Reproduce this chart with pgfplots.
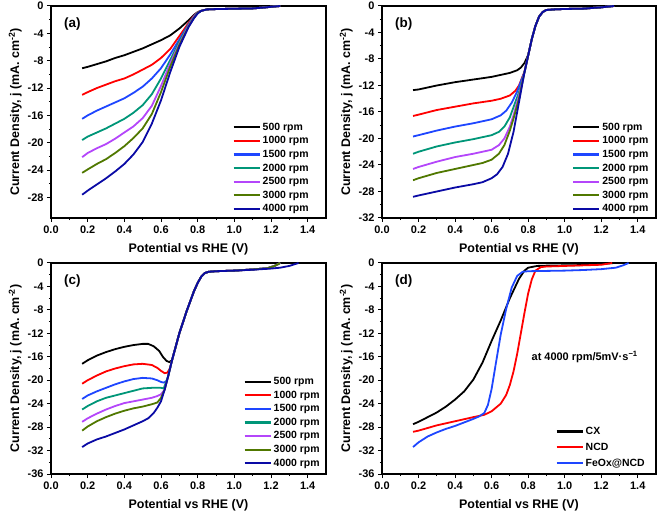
\documentclass[border=0pt]{standalone}
\usepackage{fontspec}
\setmainfont{Liberation Sans}
\usepackage{pgfplots}
\pgfplotsset{compat=1.18}

\definecolor{cA}{RGB}{0,0,0}
\definecolor{cB}{RGB}{255,0,0}
\definecolor{cC}{RGB}{30,70,255}
\definecolor{cD}{RGB}{0,150,120}
\definecolor{cE}{RGB}{180,70,250}
\definecolor{cF}{RGB}{80,120,0}
\definecolor{cG}{RGB}{10,10,165}

\pgfplotsset{
  panel/.style={
    scale only axis, width=275bp, height=212bp,
    xmin=0, xmax=1.5, xtick={0,0.2,0.4,0.6,0.8,1.0,1.2,1.4}, minor x tick num=1,
    ymax=0, minor y tick num=1,
    axis line style={line width=1.5bp},
    every tick/.style={black, line width=1bp},
    major tick length=4bp, minor tick length=2.2bp,
    tick align=outside, tick pos=left,
    /pgf/number format/assume math mode=true,
    xticklabel style={/pgf/number format/.cd, fixed, fixed zerofill, precision=1},
    ticklabel style={font=\bfseries\fontsize{11}{11}\selectfont},
    label style={font=\bfseries\fontsize{12.5}{12.5}\selectfont},
    xlabel={Potential vs RHE (V)},
    ylabel={Current Density, j (mA. cm\textsuperscript{-2})},
    xlabel style={yshift=-3bp},
    ylabel style={yshift=-1bp},
    legend cell align=left,
    legend style={draw=none, fill=none, inner sep=0pt,
      font=\bfseries\fontsize{10.5}{10.5}\selectfont,
      row sep=0.8bp},
    legend image code/.code={\draw[##1, line width=2.2bp] (0bp,0bp) -- (26bp,0bp);},
    every axis plot/.append style={line width=1.8bp, mark=none},
  }
}

\begin{document}
\begin{tikzpicture}
\path[use as bounding box] (0,0) rectangle (661bp,517bp);

% ---------------- (a)
\begin{axis}[panel, at={(51bp,299bp)}, anchor=south west,
  ymin=-31, ytick={-28,-24,-20,-16,-12,-8,-4,0},
  legend style={at={(0.945,0.012)}, anchor=south east}]
\addplot[cA] coordinates {(0.17,-9.1) (0.2,-8.9) (0.25,-8.5) (0.3,-8.1) (0.35,-7.6) (0.4,-7.2) (0.45,-6.7) (0.5,-6.2) (0.55,-5.6) (0.6,-5.0) (0.65,-4.3) (0.7,-3.3) (0.75,-2.1) (0.78,-1.3) (0.8,-0.9) (0.82,-0.7) (0.85,-0.5) (0.9,-0.45) (1.0,-0.4) (1.1,-0.35) (1.15,-0.25) (1.2,-0.12) (1.25,0)};
\addplot[cB] coordinates {(0.17,-13.0) (0.2,-12.6) (0.25,-12.0) (0.3,-11.5) (0.35,-11.0) (0.4,-10.6) (0.45,-10.0) (0.5,-9.3) (0.55,-8.6) (0.6,-7.6) (0.65,-6.3) (0.7,-4.4) (0.75,-2.5) (0.78,-1.4) (0.8,-0.9) (0.82,-0.7) (0.85,-0.5) (0.9,-0.45) (1.0,-0.4) (1.1,-0.35) (1.15,-0.25) (1.2,-0.12) (1.25,0)};
\addplot[cC] coordinates {(0.17,-16.5) (0.2,-16.0) (0.25,-15.3) (0.3,-14.7) (0.35,-14.1) (0.4,-13.5) (0.45,-12.7) (0.5,-11.8) (0.55,-10.6) (0.6,-9.1) (0.65,-7.1) (0.7,-4.9) (0.75,-2.7) (0.78,-1.5) (0.8,-0.95) (0.82,-0.7) (0.85,-0.5) (0.9,-0.45) (1.0,-0.4) (1.1,-0.35) (1.15,-0.25) (1.2,-0.12) (1.25,0)};
\addplot[cD] coordinates {(0.17,-19.6) (0.2,-19.1) (0.25,-18.5) (0.3,-17.9) (0.35,-17.2) (0.4,-16.5) (0.45,-15.6) (0.5,-14.5) (0.55,-12.9) (0.6,-10.6) (0.65,-7.9) (0.7,-5.2) (0.75,-2.8) (0.78,-1.6) (0.8,-1.0) (0.82,-0.7) (0.85,-0.5) (0.9,-0.45) (1.0,-0.4) (1.1,-0.35) (1.15,-0.25) (1.2,-0.12) (1.25,0)};
\addplot[cE] coordinates {(0.17,-22.1) (0.2,-21.5) (0.25,-20.8) (0.3,-20.2) (0.35,-19.4) (0.4,-18.5) (0.45,-17.6) (0.5,-16.4) (0.55,-14.6) (0.6,-11.7) (0.65,-8.4) (0.7,-5.5) (0.75,-2.9) (0.78,-1.6) (0.8,-1.0) (0.82,-0.7) (0.85,-0.5) (0.9,-0.45) (1.0,-0.4) (1.1,-0.35) (1.15,-0.25) (1.2,-0.12) (1.25,0)};
\addplot[cF] coordinates {(0.17,-24.4) (0.2,-23.9) (0.25,-23.1) (0.3,-22.4) (0.35,-21.5) (0.4,-20.5) (0.45,-19.3) (0.5,-17.9) (0.55,-15.8) (0.6,-12.6) (0.65,-8.9) (0.7,-5.7) (0.75,-3.0) (0.78,-1.7) (0.8,-1.0) (0.82,-0.7) (0.85,-0.5) (0.9,-0.45) (1.0,-0.4) (1.1,-0.35) (1.15,-0.25) (1.2,-0.12) (1.25,0)};
\addplot[cG] coordinates {(0.17,-27.6) (0.2,-27.0) (0.25,-26.1) (0.3,-25.2) (0.35,-24.2) (0.4,-23.1) (0.45,-21.7) (0.5,-19.9) (0.55,-17.2) (0.6,-13.8) (0.65,-9.7) (0.7,-6.0) (0.75,-3.1) (0.78,-1.8) (0.8,-1.1) (0.82,-0.7) (0.85,-0.5) (0.9,-0.45) (1.0,-0.4) (1.1,-0.35) (1.15,-0.25) (1.2,-0.12) (1.25,0)};
\legend{500 rpm,1000 rpm,1500 rpm,2000 rpm,2500 rpm,3000 rpm,4000 rpm}
\node[anchor=west, font=\bfseries\fontsize{13.5}{13.5}\selectfont] at (rel axis cs:0.035,0.915) {(a)};
\end{axis}

% ---------------- (b)
\begin{axis}[panel, at={(382bp,299bp)}, anchor=south west, width=274bp,
  ymin=-32, ytick={-32,-28,-24,-20,-16,-12,-8,-4,0},
  legend style={at={(0.98,0.012)}, anchor=south east}]
\addplot[cA] coordinates {(0.17,-12.7) (0.2,-12.6) (0.3,-12.0) (0.4,-11.5) (0.5,-11.1) (0.6,-10.7) (0.65,-10.4) (0.7,-10.1) (0.74,-9.7) (0.76,-9.3) (0.78,-8.6) (0.8,-7.4) (0.82,-5.0) (0.84,-3.0) (0.86,-1.6) (0.88,-0.9) (0.9,-0.6) (0.95,-0.5) (1.0,-0.45) (1.1,-0.4) (1.2,-0.2) (1.27,0)};
\addplot[cB] coordinates {(0.17,-16.6) (0.2,-16.4) (0.3,-15.7) (0.4,-15.2) (0.5,-14.7) (0.6,-14.3) (0.65,-14.0) (0.7,-13.5) (0.73,-12.8) (0.75,-12.0) (0.77,-10.6) (0.78,-9.9) (0.8,-7.5) (0.82,-5.0) (0.84,-3.0) (0.86,-1.6) (0.88,-0.9) (0.9,-0.6) (0.95,-0.5) (1.0,-0.45) (1.1,-0.4) (1.2,-0.2) (1.27,0)};
\addplot[cC] coordinates {(0.17,-19.7) (0.2,-19.5) (0.3,-18.8) (0.4,-18.2) (0.5,-17.7) (0.6,-17.1) (0.65,-16.5) (0.68,-15.8) (0.71,-14.6) (0.74,-12.9) (0.76,-11.4) (0.78,-10.0) (0.8,-7.5) (0.82,-5.0) (0.84,-3.0) (0.86,-1.6) (0.88,-0.9) (0.9,-0.6) (0.95,-0.5) (1.0,-0.45) (1.1,-0.4) (1.2,-0.2) (1.27,0)};
\addplot[cD] coordinates {(0.17,-22.3) (0.2,-22.0) (0.3,-21.2) (0.4,-20.6) (0.5,-20.1) (0.6,-19.5) (0.64,-19.0) (0.67,-18.2) (0.7,-16.8) (0.73,-14.5) (0.75,-13.0) (0.78,-10.0) (0.8,-7.5) (0.82,-5.0) (0.84,-3.0) (0.86,-1.6) (0.88,-0.9) (0.9,-0.6) (0.95,-0.5) (1.0,-0.45) (1.1,-0.4) (1.2,-0.2) (1.27,0)};
\addplot[cE] coordinates {(0.17,-24.6) (0.2,-24.3) (0.3,-23.5) (0.4,-22.8) (0.5,-22.3) (0.6,-21.7) (0.64,-21.0) (0.67,-20.0) (0.7,-18.2) (0.72,-16.5) (0.75,-13.5) (0.78,-10.0) (0.8,-7.5) (0.82,-5.0) (0.84,-3.0) (0.86,-1.6) (0.88,-0.9) (0.9,-0.6) (0.95,-0.5) (1.0,-0.45) (1.1,-0.4) (1.2,-0.2) (1.27,0)};
\addplot[cF] coordinates {(0.17,-26.3) (0.2,-26.0) (0.3,-25.2) (0.4,-24.6) (0.5,-24.0) (0.55,-23.7) (0.6,-23.2) (0.64,-22.3) (0.67,-21.0) (0.7,-18.8) (0.72,-17.0) (0.75,-14.0) (0.78,-10.0) (0.8,-7.5) (0.82,-5.0) (0.84,-3.0) (0.86,-1.6) (0.88,-0.9) (0.9,-0.6) (0.95,-0.5) (1.0,-0.45) (1.1,-0.4) (1.2,-0.2) (1.27,0)};
\addplot[cG] coordinates {(0.17,-28.8) (0.2,-28.6) (0.3,-28.0) (0.4,-27.4) (0.5,-26.9) (0.55,-26.6) (0.6,-26.0) (0.63,-25.4) (0.66,-24.3) (0.69,-22.3) (0.72,-19.0) (0.75,-14.5) (0.78,-10.0) (0.8,-7.5) (0.82,-5.0) (0.84,-3.0) (0.86,-1.6) (0.88,-0.9) (0.9,-0.6) (0.95,-0.5) (1.0,-0.45) (1.1,-0.4) (1.2,-0.2) (1.27,0)};
\legend{500 rpm,1000 rpm,1500 rpm,2000 rpm,2500 rpm,3000 rpm,4000 rpm}
\node[anchor=west, font=\bfseries\fontsize{13.5}{13.5}\selectfont] at (rel axis cs:0.035,0.915) {(b)};
\end{axis}

% ---------------- (c)
\begin{axis}[panel, at={(51bp,43bp)}, anchor=south west, height=211bp,
  ymin=-36, ytick={-36,-32,-28,-24,-20,-16,-12,-8,-4,0},
  legend style={at={(0.985,0.02)}, anchor=south east}]
\addplot[cA] coordinates {(0.17,-17.2) (0.2,-16.6) (0.25,-15.8) (0.3,-15.2) (0.35,-14.7) (0.4,-14.3) (0.45,-14.0) (0.5,-13.8) (0.53,-13.8) (0.56,-14.2) (0.59,-15.0) (0.61,-16.0) (0.63,-16.7) (0.645,-16.9) (0.66,-16.6) (0.7,-12.0) (0.74,-8.2) (0.78,-4.8) (0.8,-3.4) (0.82,-2.3) (0.84,-1.7) (0.86,-1.5) (0.9,-1.4) (1.0,-1.3) (1.1,-1.1) (1.18,-0.9) (1.22,-0.5) (1.25,0)};
\addplot[cB] coordinates {(0.17,-20.6) (0.2,-20.0) (0.25,-19.2) (0.3,-18.5) (0.35,-18.0) (0.4,-17.6) (0.45,-17.3) (0.5,-17.2) (0.55,-17.4) (0.58,-17.9) (0.6,-18.4) (0.62,-18.8) (0.635,-18.7) (0.648,-18.0) (0.66,-16.6) (0.7,-12.0) (0.74,-8.2) (0.78,-4.8) (0.8,-3.4) (0.82,-2.3) (0.84,-1.7) (0.86,-1.5) (0.9,-1.4) (1.0,-1.3) (1.1,-1.1) (1.18,-0.9) (1.22,-0.5) (1.25,0)};
\addplot[cC] coordinates {(0.17,-23.2) (0.2,-22.6) (0.25,-21.9) (0.3,-21.3) (0.35,-20.7) (0.4,-20.2) (0.45,-19.8) (0.5,-19.6) (0.55,-19.7) (0.58,-20.0) (0.6,-20.3) (0.615,-20.4) (0.632,-20.1) (0.64,-19.2) (0.66,-16.6) (0.7,-12.0) (0.74,-8.2) (0.78,-4.8) (0.8,-3.4) (0.82,-2.3) (0.84,-1.7) (0.86,-1.5) (0.9,-1.4) (1.0,-1.3) (1.1,-1.1) (1.18,-0.9) (1.22,-0.5) (1.25,0)};
\addplot[cD] coordinates {(0.17,-25.0) (0.2,-24.4) (0.25,-23.6) (0.3,-23.0) (0.35,-22.6) (0.4,-22.2) (0.45,-21.8) (0.5,-21.4) (0.55,-21.3) (0.58,-21.3) (0.6,-21.3) (0.615,-21.4) (0.64,-19.2) (0.66,-16.6) (0.7,-12.0) (0.74,-8.2) (0.78,-4.8) (0.8,-3.4) (0.82,-2.3) (0.84,-1.7) (0.86,-1.5) (0.9,-1.4) (1.0,-1.3) (1.1,-1.1) (1.18,-0.9) (1.22,-0.5) (1.25,0)};
\addplot[cE] coordinates {(0.17,-27.1) (0.2,-26.5) (0.25,-25.7) (0.3,-25.0) (0.35,-24.4) (0.4,-23.9) (0.45,-23.6) (0.5,-23.3) (0.55,-23.0) (0.58,-22.7) (0.6,-22.4) (0.62,-21.6) (0.64,-19.2) (0.66,-16.6) (0.7,-12.0) (0.74,-8.2) (0.78,-4.8) (0.8,-3.4) (0.82,-2.3) (0.84,-1.7) (0.86,-1.5) (0.9,-1.4) (1.0,-1.3) (1.1,-1.1) (1.18,-0.9) (1.22,-0.5) (1.25,0)};
\addplot[cF] coordinates {(0.17,-28.6) (0.2,-27.9) (0.25,-27.0) (0.3,-26.3) (0.35,-25.7) (0.4,-25.2) (0.45,-24.8) (0.5,-24.5) (0.55,-24.1) (0.58,-23.8) (0.6,-23.0) (0.62,-21.6) (0.64,-19.2) (0.66,-16.6) (0.7,-12.0) (0.74,-8.2) (0.78,-4.8) (0.8,-3.4) (0.82,-2.3) (0.84,-1.7) (0.86,-1.5) (0.9,-1.4) (1.0,-1.3) (1.1,-1.1) (1.18,-0.9) (1.22,-0.5) (1.25,0)};
\addplot[cG] coordinates {(0.17,-31.4) (0.2,-30.8) (0.25,-30.1) (0.3,-29.6) (0.35,-29.0) (0.4,-28.4) (0.45,-27.7) (0.5,-27.0) (0.53,-26.5) (0.56,-25.6) (0.58,-24.7) (0.6,-23.6) (0.62,-21.6) (0.64,-19.2) (0.66,-16.6) (0.7,-12.0) (0.74,-8.2) (0.78,-4.8) (0.8,-3.4) (0.82,-2.3) (0.84,-1.7) (0.86,-1.5) (0.9,-1.4) (1.0,-1.3) (1.1,-1.15) (1.2,-0.95) (1.25,-0.8) (1.3,-0.5) (1.33,-0.2) (1.35,0)};
\legend{500 rpm,1000 rpm,1500 rpm,2000 rpm,2500 rpm,3000 rpm,4000 rpm}
\node[anchor=west, font=\bfseries\fontsize{13.5}{13.5}\selectfont] at (rel axis cs:0.035,0.915) {(c)};
\end{axis}

% ---------------- (d)
\begin{axis}[panel, at={(382bp,43bp)}, anchor=south west, width=274bp, height=211bp,
  ymin=-36, ytick={-36,-32,-28,-24,-20,-16,-12,-8,-4,0},
  legend style={at={(0.967,0.02)}, anchor=south east, row sep=3bp}]
\addplot[cA] coordinates {(0.17,-27.5) (0.2,-27.1) (0.25,-26.3) (0.3,-25.5) (0.35,-24.5) (0.4,-23.3) (0.45,-21.9) (0.5,-19.9) (0.55,-17.0) (0.6,-13.3) (0.65,-9.8) (0.7,-6.0) (0.75,-2.7) (0.78,-1.3) (0.8,-0.8) (0.85,-0.5) (0.9,-0.45) (1.0,-0.4) (1.1,-0.35) (1.2,-0.2) (1.27,0)};
\addplot[cB] coordinates {(0.17,-28.8) (0.2,-28.6) (0.3,-27.7) (0.4,-27.0) (0.5,-26.3) (0.56,-25.9) (0.6,-25.3) (0.65,-24.0) (0.68,-22.5) (0.7,-20.8) (0.72,-18.5) (0.74,-15.5) (0.76,-12.0) (0.78,-8.5) (0.8,-5.2) (0.82,-2.8) (0.84,-1.3) (0.87,-0.7) (0.9,-0.6) (1.0,-0.5) (1.1,-0.4) (1.2,-0.3) (1.26,0)};
\addplot[cC] coordinates {(0.17,-31.4) (0.2,-30.6) (0.25,-29.6) (0.3,-28.9) (0.35,-28.3) (0.4,-27.8) (0.45,-27.2) (0.5,-26.6) (0.53,-26.2) (0.56,-25.6) (0.58,-24.2) (0.6,-21.5) (0.625,-16.8) (0.65,-12.2) (0.68,-7.8) (0.71,-4.2) (0.74,-2.2) (0.77,-1.5) (0.8,-1.4) (0.9,-1.35) (1.0,-1.3) (1.1,-1.2) (1.2,-1.05) (1.28,-0.8) (1.32,-0.4) (1.35,0)};
\legend{CX,NCD,FeOx@NCD}
\node[anchor=west, font=\bfseries\fontsize{13.5}{13.5}\selectfont] at (rel axis cs:0.035,0.915) {(d)};
\node[anchor=west, font=\bfseries\fontsize{11}{11}\selectfont] at (axis cs:0.8,-16) {at 4000 rpm/5mV·s\textsuperscript{−1}};
\end{axis}
\end{tikzpicture}
\end{document}
